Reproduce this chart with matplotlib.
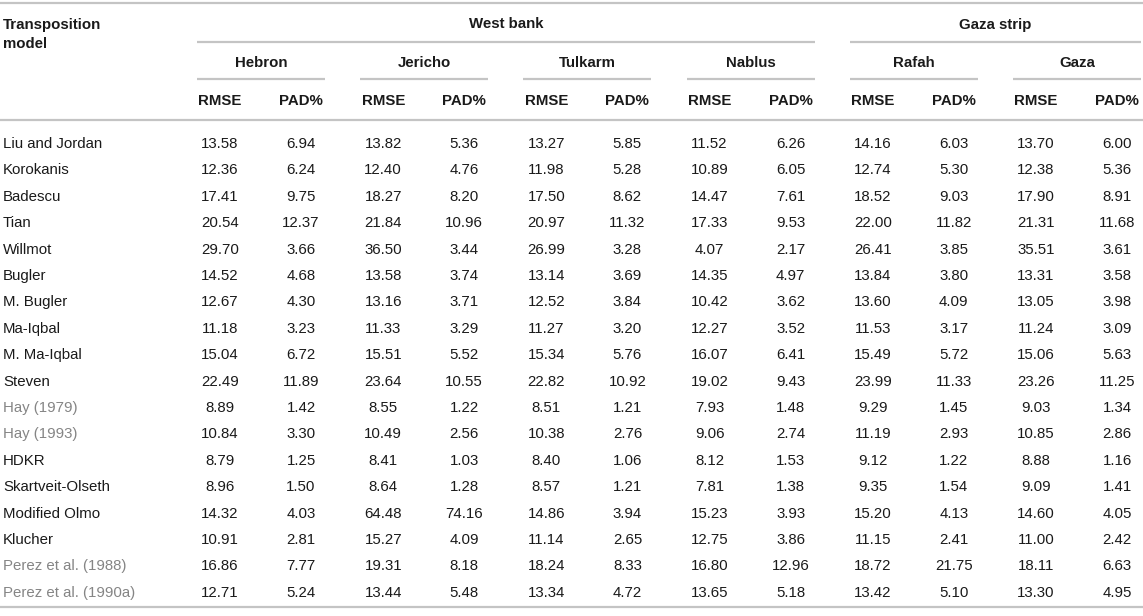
import matplotlib.pyplot as plt

# Table contents
models = ['Liu and Jordan', 'Korokanis', 'Badescu', 'Tian', 'Willmot', 'Bugler',
          'M. Bugler', 'Ma-Iqbal', 'M. Ma-Iqbal', 'Steven', 'Hay (1979)', 'Hay (1993)',
          'HDKR', 'Skartveit-Olseth', 'Modified Olmo', 'Klucher',
          'Perez et al. (1988)', 'Perez et al. (1990a)']
gray_models = ['Hay (1979)', 'Hay (1993)', 'Perez et al. (1988)', 'Perez et al. (1990a)']

regions = ['West bank', 'Gaza strip']
cities = ['Hebron', 'Jericho', 'Tulkarm', 'Nablus', 'Rafah', 'Gaza']
city_region = [0, 0, 0, 0, 1, 1]
metrics = ['RMSE', 'PAD%']

hebron_rmse = ['13.58', '12.36', '17.41', '20.54', '29.70', '14.52', '12.67', '11.18', '15.04',
               '22.49', '8.89', '10.84', '8.79', '8.96', '14.32', '10.91', '16.86', '12.71']
hebron_pad = ['6.94', '6.24', '9.75', '12.37', '3.66', '4.68', '4.30', '3.23', '6.72',
              '11.89', '1.42', '3.30', '1.25', '1.50', '4.03', '2.81', '7.77', '5.24']
jericho_rmse = ['13.82', '12.40', '18.27', '21.84', '36.50', '13.58', '13.16', '11.33', '15.51',
                '23.64', '8.55', '10.49', '8.41', '8.64', '64.48', '15.27', '19.31', '13.44']
jericho_pad = ['5.36', '4.76', '8.20', '10.96', '3.44', '3.74', '3.71', '3.29', '5.52',
               '10.55', '1.22', '2.56', '1.03', '1.28', '74.16', '4.09', '8.18', '5.48']
tulkarm_rmse = ['13.27', '11.98', '17.50', '20.97', '26.99', '13.14', '12.52', '11.27', '15.34',
                '22.82', '8.51', '10.38', '8.40', '8.57', '14.86', '11.14', '18.24', '13.34']
tulkarm_pad = ['5.85', '5.28', '8.62', '11.32', '3.28', '3.69', '3.84', '3.20', '5.76',
               '10.92', '1.21', '2.76', '1.06', '1.21', '3.94', '2.65', '8.33', '4.72']
nablus_rmse = ['11.52', '10.89', '14.47', '17.33', '4.07', '14.35', '10.42', '12.27', '16.07',
               '19.02', '7.93', '9.06', '8.12', '7.81', '15.23', '12.75', '16.80', '13.65']
nablus_pad = ['6.26', '6.05', '7.61', '9.53', '2.17', '4.97', '3.62', '3.52', '6.41',
              '9.43', '1.48', '2.74', '1.53', '1.38', '3.93', '3.86', '12.96', '5.18']
rafah_rmse = ['14.16', '12.74', '18.52', '22.00', '26.41', '13.84', '13.60', '11.53', '15.49',
              '23.99', '9.29', '11.19', '9.12', '9.35', '15.20', '11.15', '18.72', '13.42']
rafah_pad = ['6.03', '5.30', '9.03', '11.82', '3.85', '3.80', '4.09', '3.17', '5.72',
             '11.33', '1.45', '2.93', '1.22', '1.54', '4.13', '2.41', '21.75', '5.10']
gaza_rmse = ['13.70', '12.38', '17.90', '21.31', '35.51', '13.31', '13.05', '11.24', '15.06',
             '23.26', '9.03', '10.85', '8.88', '9.09', '14.60', '11.00', '18.11', '13.30']
gaza_pad = ['6.00', '5.36', '8.91', '11.68', '3.61', '3.58', '3.98', '3.09', '5.63',
            '11.25', '1.34', '2.86', '1.16', '1.41', '4.05', '2.42', '6.63', '4.95']

columns = [hebron_rmse, hebron_pad, jericho_rmse, jericho_pad, tulkarm_rmse, tulkarm_pad,
           nablus_rmse, nablus_pad, rafah_rmse, rafah_pad, gaza_rmse, gaza_pad]

#---------------------------------
# Layout (pixel coordinates)
#---------------------------------
W, H = 1143, 616
plt.rcParams['font.family'] = ['Liberation Sans', 'DejaVu Sans']
fs = 10.8
line_col = '#c4c4c4'
txt_col = '#1a1a1a'
gray_col = '#858585'

fig = plt.figure(figsize=(W / 100, H / 100), dpi=100)
ax = fig.add_axes([0, 0, 1, 1])
ax.set_xlim(0, W)
ax.set_ylim(H, 0)
ax.axis('off')

group_x0 = 197
group_step = 163.2
group_w = 128

def hline(y, x0, x1):
    ax.plot([x0, x1], [y, y], color=line_col, lw=1.6, solid_capstyle='butt')

# main rules
hline(3, 0, W)
hline(120, 0, W)
hline(607, 0, W)

# header left
ax.text(3, 29, 'Transposition', fontsize=fs, fontweight='bold', color=txt_col, va='baseline')
ax.text(3, 48.5, 'model', fontsize=fs, fontweight='bold', color=txt_col, va='baseline')

# regions
for r, name in enumerate(regions):
    idx = [i for i, c in enumerate(city_region) if c == r]
    x0 = group_x0 + idx[0] * group_step
    x1 = group_x0 + idx[-1] * group_step + group_w
    ax.text((x0 + x1) / 2, 28.5, name, fontsize=fs, fontweight='bold', color=txt_col,
            ha='center', va='baseline')
    hline(42, x0, min(x1, W - 2))

# cities and metrics
for i, city in enumerate(cities):
    x0 = group_x0 + i * group_step
    ax.text(x0 + group_w / 2, 67, city, fontsize=fs, fontweight='bold', color=txt_col,
            ha='center', va='baseline')
    hline(79, x0, min(x0 + group_w, W - 2))
    for j, m in enumerate(metrics):
        ax.text(x0 + 23 + j * 81, 105, m, fontsize=fs, fontweight='bold', color=txt_col,
                ha='center', va='baseline')

# body
row0 = 148
row_step = 26.4
for k, model in enumerate(models):
    y = row0 + k * row_step
    col = gray_col if model in gray_models else txt_col
    ax.text(3, y, model, fontsize=fs, color=col, va='baseline')
    for c, vals in enumerate(columns):
        x = group_x0 + (c // 2) * group_step + 23 + (c % 2) * 81
        ax.text(x, y, vals[k], fontsize=fs, color=txt_col, ha='center', va='baseline')

fig.savefig('out.png', dpi=100)
